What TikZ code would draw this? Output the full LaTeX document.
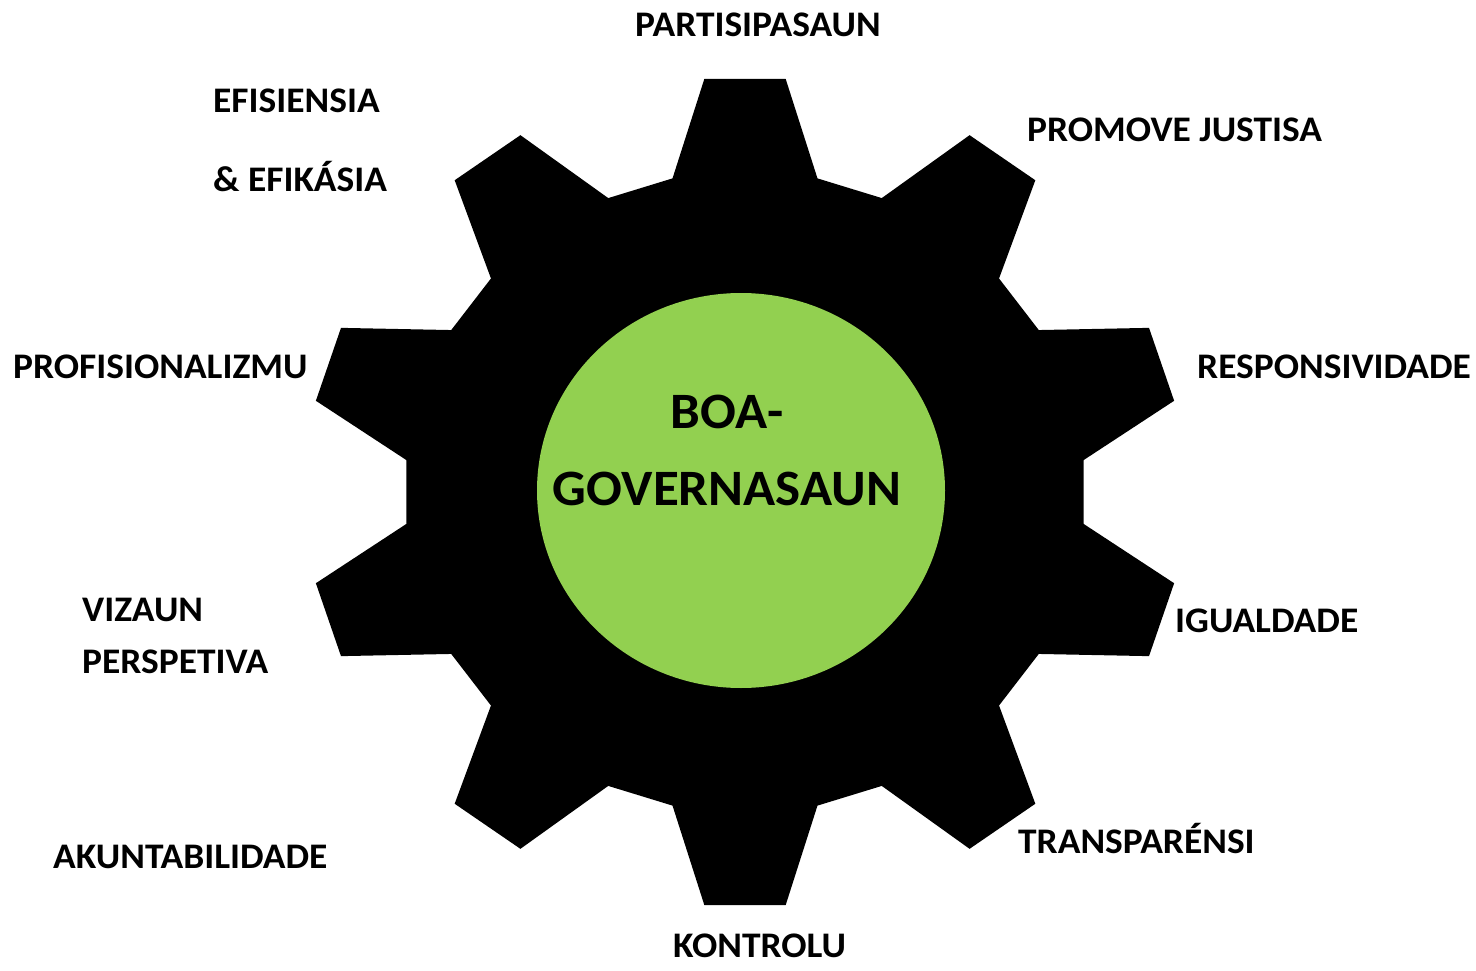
\documentclass[tikz,border=0pt]{standalone}
\usepackage{fontspec}
\usepackage{graphicx}
\setmainfont{Carlito}
\usetikzlibrary{shapes.geometric}
\definecolor{hubgreen}{HTML}{92D050}
\newcommand\widetxt[1]{\scalebox{1.04}[1]{#1}}
\begin{document}
\begin{tikzpicture}[x=1pt,y=-1pt,
  lbl/.style={anchor=base west,inner sep=0pt,font=\fontsize{36}{40}\selectfont\bfseries},
  hubtext/.style={anchor=base,inner sep=0pt,font=\fontsize{51}{60}\selectfont\bfseries}]
\useasboundingbox[fill=white] (0,0) rectangle (1476,971);
\def\sx{1.06}
\def\cx{745}
\def\cy{492}
\def\rr{321}
\def\rt{415}
\fill[black] ({\cx+\sx*\rr*cos(77.7)},{\cy+\rr*sin(77.7)})
  \foreach \k in {0,...,9} {
    -- ({\cx+\sx*\rr*cos(90+36*\k-12.3)},{\cy+\rr*sin(90+36*\k-12.3)})
    -- ({\cx+\sx*\rt*cos(90+36*\k-5.3)},{\cy+\rt*sin(90+36*\k-5.3)})
    -- ({\cx+\sx*\rt*cos(90+36*\k+5.3)},{\cy+\rt*sin(90+36*\k+5.3)})
    -- ({\cx+\sx*\rr*cos(90+36*\k+12.3)},{\cy+\rr*sin(90+36*\k+12.3)})
  } -- cycle;
\node[ellipse,fill=hubgreen,inner sep=0pt,minimum width=408pt,minimum height=395pt] (hub) at (741,490.5) {};
\node[hubtext] (boa) at (727,428) {\widetxt{BOA-}};
\node[hubtext] (gov) at (727,505) {\widetxt{GOVERNASAUN}};
\node[lbl] (l1) at (635,37) {\widetxt{PARTISIPASAUN}};
\node[lbl] (l2) at (1027,142) {\widetxt{PROMOVE JUSTISA}};
\node[lbl] (l3) at (1197,378) {\widetxt{RESPONSIVIDADE}};
\node[lbl] (l4) at (1175,632) {\widetxt{IGUALDADE}};
\node[lbl] (l5) at (1018,853) {\widetxt{TRANSPARÉNSI}};
\node[lbl] (l6) at (673,957) {\widetxt{KONTROLU}};
\node[lbl] (l7) at (53,868) {\widetxt{AKUNTABILIDADE}};
\node[lbl] (l8a) at (82,621) {\widetxt{VIZAUN}};
\node[lbl] (l8b) at (82,673) {\widetxt{PERSPETIVA}};
\node[lbl] (l9) at (13,378) {\widetxt{PROFISIONALIZMU}};
\node[lbl] (l10a) at (213,113) {\widetxt{EFISIENSIA}};
\node[lbl] (l10b) at (213,192) {\widetxt{\& EFIKÁSIA}};
\end{tikzpicture}
\end{document}
